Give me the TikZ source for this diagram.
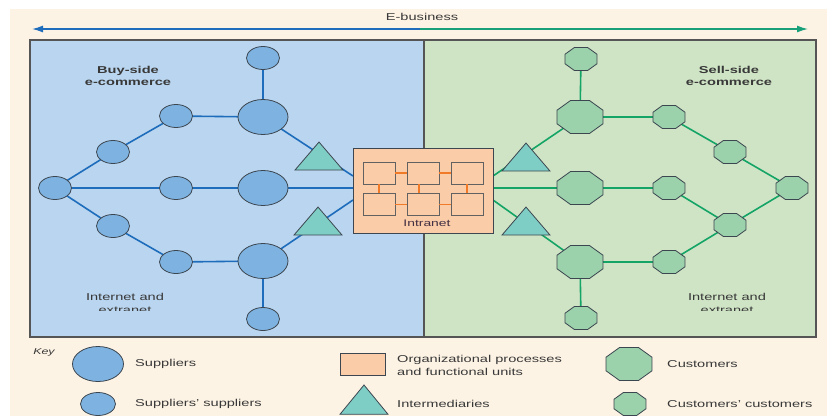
\documentclass[tikz,border=0pt]{standalone}
\usepackage{fontspec}
\setmainfont{Liberation Sans}[FakeStretch=1.46]
\usetikzlibrary{shapes.geometric,arrows.meta,calc}
\pgfdeclarelayer{bg}
\pgfdeclarelayer{edges}
\pgfsetlayers{bg,edges,main}
\definecolor{cream}{HTML}{FDF3E4}
\definecolor{bluepanel}{HTML}{B9D5EF}
\definecolor{greenpanel}{HTML}{CFE4C5}
\definecolor{paneledge}{HTML}{555555}
\definecolor{ellfill}{HTML}{7EB3E1}
\definecolor{octfill}{HTML}{9BD1AB}
\definecolor{trifill}{HTML}{7FCEC6}
\definecolor{nodeedge}{HTML}{3C4650}
\definecolor{bluelink}{HTML}{1E6DBC}
\definecolor{greenlink}{HTML}{14A466}
\definecolor{arrowgreen}{HTML}{17A07A}
\definecolor{orgfill}{HTML}{FBCCA8}
\definecolor{orglink}{HTML}{F07A28}
\definecolor{txt}{HTML}{383838}
\tikzset{
  shapeedge/.style={draw=nodeedge, line width=0.8pt, inner sep=0pt},
  bigell/.style={shapeedge, ellipse, fill=ellfill, minimum width=50pt, minimum height=35pt},
  smallell/.style={shapeedge, ellipse, fill=ellfill, minimum width=33pt, minimum height=23pt},
  bigoct/.style={shapeedge, regular polygon, regular polygon sides=8, fill=octfill, minimum size=35.7pt, xscale=1.39},
  smalloct/.style={shapeedge, regular polygon, regular polygon sides=8, fill=octfill, minimum size=24.9pt, xscale=1.39},
  tribase/.style={shapeedge, regular polygon, regular polygon sides=3, fill=trifill},
  tri/.style={tribase, minimum size=37.3pt, xscale=1.485},
  keytri/.style={tribase, minimum size=39pt, xscale=1.42},
  orgbox/.style={shapeedge, rectangle, fill=orgfill},
  subbox/.style={draw=nodeedge!80!orgfill, line width=0.8pt, rectangle, fill=orgfill, inner sep=0pt, minimum width=32pt, minimum height=22pt},
  bline/.style={draw=bluelink, line width=1.6pt},
  gline/.style={draw=greenlink, line width=1.6pt},
  olink/.style={draw=orglink, line width=1.4pt},
  lbl/.style={text=txt, font=\fontsize{10}{12}\selectfont, inner sep=0pt, align=center},
  boldlbl/.style={lbl, font=\fontsize{10}{12}\selectfont\bfseries},
  keytxt/.style={lbl, anchor=west, align=left}
}
\begin{document}
\begin{tikzpicture}[x=1pt, y=-1pt]
\useasboundingbox (0,0) rectangle (827,416);
\begin{pgfonlayer}{bg}
  \fill[white] (0,0) rectangle (827,416);
  \fill[cream] (10,9) rectangle (827,416);
  \draw[paneledge, line width=1.3pt, fill=bluepanel] (30,40) rectangle (424,337);
  \draw[paneledge, line width=1.3pt, fill=greenpanel] (424,40) rectangle (816,337);
\end{pgfonlayer}

% E-business arrow
\coordinate (ebl) at (32,29);
\coordinate (ebm) at (420,29);
\coordinate (ebr) at (808,29);
\draw[bluelink, line width=1.4pt, -{Latex[length=11pt,width=7pt]}] (ebm) -- (ebl);
\draw[arrowgreen, line width=1.4pt, -{Latex[length=11pt,width=7pt]}] (ebm) -- (ebr);
\node[lbl] (eb) at (422,17) {E-business};

% side titles
\node[boldlbl] (buy) at (128,76) {Buy-side\\e-commerce};
\node[boldlbl] (sell) at (729,76) {Sell-side\\e-commerce};
\node[lbl] (inetl) at (125,297) {Internet and};
\node[lbl] (inetr) at (727,297) {Internet and};
\begin{scope}
  \clip (30,290) rectangle (816,310.5);
  \node[lbl] (extl) at (125,310) {extranet};
  \node[lbl] (extr) at (727,310) {extranet};
\end{scope}

% left network
\node[smallell] (l0) at (55,188) {};
\node[smallell] (lu1) at (113,152) {};
\node[smallell] (lu2) at (176,116) {};
\node[bigell] (lu3) at (263,117) {};
\node[smallell] (lt) at (263,58) {};
\node[smallell] (lm1) at (176,188) {};
\node[bigell] (lm2) at (263,188) {};
\node[smallell] (ld1) at (113,226) {};
\node[smallell] (ld2) at (176,262) {};
\node[bigell] (ld3) at (263,261) {};
\node[smallell] (lb) at (263,319) {};
\node[tri] (tlu) at (319,160.7) {};
\node[tri] (tld) at (318,225.7) {};

% right network
\node[smalloct] (r0) at (792,188) {};
\node[smalloct] (ru1) at (730,152) {};
\node[smalloct] (ru2) at (669,117) {};
\node[bigoct] (ru3) at (580,117) {};
\node[smalloct] (rt) at (581,59) {};
\node[smalloct] (rm1) at (669,188) {};
\node[bigoct] (rm2) at (580,188) {};
\node[smalloct] (rd1) at (730,225) {};
\node[smalloct] (rd2) at (669,262) {};
\node[bigoct] (rd3) at (580,262) {};
\node[smalloct] (rb) at (581,318) {};
\node[tri] (tru) at (526,161.7) {};
\node[tri] (trd) at (526,225.7) {};

% intranet
\node[orgbox, minimum width=140pt, minimum height=85pt] (intra) at (423,190.5) {};
\node[subbox] (b1) at (379,173) {};
\node[subbox] (b2) at (423,173) {};
\node[subbox] (b3) at (467,173) {};
\node[subbox] (b4) at (379,204.5) {};
\node[subbox] (b5) at (423,204.5) {};
\node[subbox] (b6) at (467,204.5) {};
\draw[olink] (b1) -- (b2);
\draw[olink] (b2) -- (b3);
\draw[olink] (b4) -- (b5);
\draw[olink] (b5) -- (b6);
\draw[olink] (b1) -- (b4);
\draw[olink] ([xshift=-4pt]b2.south) -- ([xshift=-4pt]b5.north);
\draw[olink] (b3) -- (b6);
\node[lbl, font=\fontsize{9.5}{11}\selectfont, text=txt!85!violet] (intralbl) at (427,223) {Intranet};

\coordinate (ilu) at (353,176);
\coordinate (ilm) at (353,188);
\coordinate (ild) at (353,200);
\coordinate (iru) at (493,176);
\coordinate (irm) at (493,188);
\coordinate (ird) at (493,200);

\begin{pgfonlayer}{edges}
  \draw[bline] (l0.center) -- (lu1.center) -- (lu2.center) -- (lu3.center) -- (ilu);
  \draw[bline] (lt.center) -- (lu3.center);
  \draw[bline] (l0.center) -- (lm1.center) -- (lm2.center) -- (ilm);
  \draw[bline] (l0.center) -- (ld1.center) -- (ld2.center) -- (ld3.center) -- (ild);
  \draw[bline] (lb.center) -- (ld3.center);
  \draw[gline] (iru) -- (ru3.center) -- (ru2.center) -- (ru1.center) -- (r0.center);
  \draw[gline] (rt.center) -- (ru3.center);
  \draw[gline] (irm) -- (rm2.center) -- (rm1.center) -- (rd1.center) -- (r0.center);
  \draw[gline] (ird) -- (rd3.center) -- (rd2.center) -- (rd1.center);
  \draw[gline] (rb.center) -- (rd3.center);
\end{pgfonlayer}

% key
\node[lbl, font=\fontsize{8.5}{10}\selectfont\itshape] (key) at (44,352) {Key};
\node[bigell, minimum width=51pt] (k1) at (98,364) {};
\node[keytxt] (k1t) at (135,364) {Suppliers};
\node[smallell, minimum width=35pt] (k2) at (98,404) {};
\node[keytxt] (k2t) at (135,404) {Suppliers’ suppliers};
\node[orgbox, minimum width=45pt, minimum height=22pt] (k3) at (363,364) {};
\node[keytxt, font=\fontsize{10}{13}\selectfont] (k3t) at (397,365) {Organizational processes\\and functional units};
\node[keytri] (k4) at (364,404.5) {};
\node[keytxt] (k4t) at (397,404) {Intermediaries};
\node[bigoct] (k5) at (629,364) {};
\node[keytxt] (k5t) at (667,364) {Customers};
\node[smalloct] (k6) at (630,404) {};
\node[keytxt] (k6t) at (667,404) {Customers’ customers};
\end{tikzpicture}
\end{document}
